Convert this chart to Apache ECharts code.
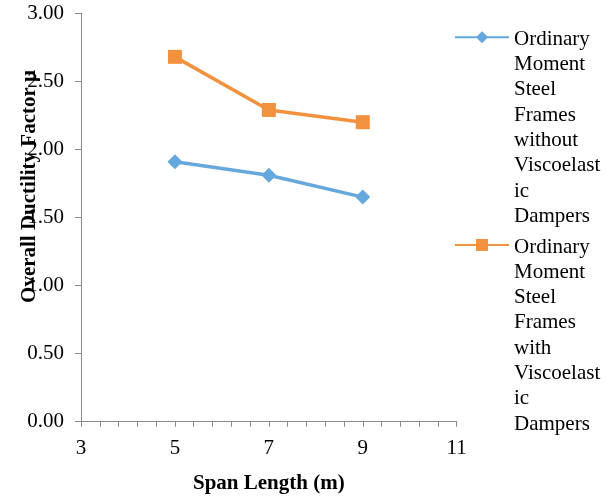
<!DOCTYPE html>
<html>
<head>
<meta charset="utf-8">
<script src="https://cdn.jsdelivr.net/npm/echarts@6/dist/echarts.min.js"></script>
<style>html,body{margin:0;padding:0;background:#fff}#c{width:610px;height:497px}</style>
</head>
<body>
<div id="c"></div>
<script>
const spanLengths = [5, 7, 9];
const withoutVED = [1.91, 1.81, 1.65];
const withVED = [2.68, 2.29, 2.20];
const seriesNames = [
  'Ordinary Moment Steel Frames without Viscoelastic Dampers',
  'Ordinary Moment Steel Frames with Viscoelastic Dampers'
];
const legendLines = [
  ['Ordinary', 'Moment', 'Steel', 'Frames', 'without', 'Viscoelast', 'ic', 'Dampers'],
  ['Ordinary', 'Moment', 'Steel', 'Frames', 'with', 'Viscoelast', 'ic', 'Dampers']
];
const xTitle = 'Span Length (m)';
const yTitle = 'Overall Ductility Factor μ';

const FONT = 'Liberation Serif, Times New Roman, serif';
const blue = '#66A7DC';
const orange = '#F3923E';
const axisGray = '#8A8A8A';
const LH = 25.3;
const PAD = 7 * LH + 4;
const H = PAD + 8 * LH;

function pairs(xs, ys) { return xs.map((x, i) => [x, ys[i]]); }

function makeLegend(idx, iconCenterY) {
  return {
    show: true,
    orient: 'vertical',
    left: 454,
    top: iconCenterY - H / 2,
    padding: 0,
    itemGap: 0,
    itemWidth: 54,
    itemHeight: 15,
    data: [seriesNames[idx]],
    formatter: function () {
      return '{p| }\n' + legendLines[idx].map(s => '{t|' + s + '}').join('\n');
    },
    textStyle: {
      fontFamily: FONT, fontSize: 21, color: '#000', lineHeight: LH,
      rich: {
        p: { fontFamily: FONT, fontSize: 21, lineHeight: PAD, color: '#000' },
        t: { fontFamily: FONT, fontSize: 21, lineHeight: LH, color: '#000' }
      }
    }
  };
}

const chart = echarts.init(document.getElementById('c'), null, { renderer: 'canvas' });
chart.setOption({
  animation: false,
  backgroundColor: '#fff',
  grid: { left: 81, right: 153.3, top: 13.3, bottom: 75.3, outerBoundsMode: 'none', containLabel: false },
  legend: [makeLegend(0, 37.3), makeLegend(1, 245)],
  xAxis: {
    type: 'value', min: 3, max: 11, interval: 2,
    name: xTitle, nameLocation: 'middle', nameGap: 51, nameMoveOverlap: false,
    nameTextStyle: { fontFamily: FONT, fontSize: 21, fontWeight: 'bold', color: '#000' },
    axisLine: { show: true, lineStyle: { color: axisGray, width: 1 } },
    axisTick: { show: true, inside: false, length: 5, lineStyle: { color: axisGray } },
    minorTick: { show: true, splitNumber: 5, length: 5, lineStyle: { color: axisGray } },
    splitLine: { show: false },
    axisLabel: { fontFamily: FONT, fontSize: 21, color: '#000', margin: 16 }
  },
  yAxis: {
    type: 'value', min: 0, max: 3, interval: 0.5,
    name: yTitle, nameLocation: 'middle', nameGap: 41, nameRotate: 90, nameMoveOverlap: false,
    nameTextStyle: { fontFamily: FONT, fontSize: 21, fontWeight: 'bold', color: '#000', padding: [0, 0, 0, 62] },
    axisLine: { show: true, lineStyle: { color: axisGray, width: 1 } },
    axisTick: { show: true, inside: false, length: 6, lineStyle: { color: axisGray } },
    splitLine: { show: false },
    axisLabel: { fontFamily: FONT, fontSize: 21, color: '#000', margin: 17, formatter: v => v.toFixed(2) }
  },
  series: [
    {
      name: seriesNames[0], type: 'line', data: pairs(spanLengths, withoutVED),
      symbol: 'diamond', symbolSize: 15,
      lineStyle: { color: blue, width: 3.5 }, itemStyle: { color: blue }
    },
    {
      name: seriesNames[1], type: 'line', data: pairs(spanLengths, withVED),
      symbol: 'rect', symbolSize: 14,
      lineStyle: { color: orange, width: 3.5 }, itemStyle: { color: orange }
    }
  ]
});
</script>
</body>
</html>
